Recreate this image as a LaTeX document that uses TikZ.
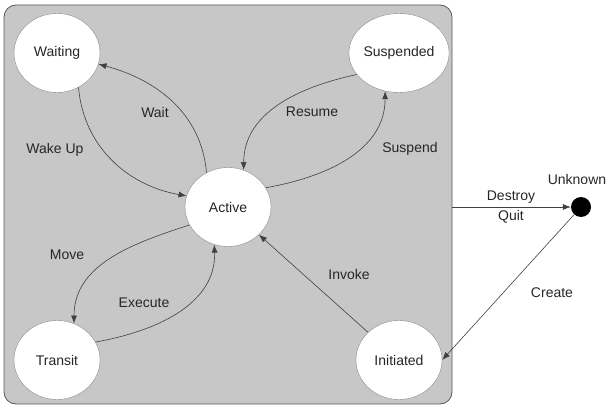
\documentclass[tikz,border=0pt]{standalone}
\usepackage{fontspec}
\setmainfont{Liberation Sans}
\usetikzlibrary{positioning}
\usetikzlibrary{arrows.meta}
\usetikzlibrary{shapes.geometric}

\begin{document}
\begin{tikzpicture}[x=1pt, y=-1pt, font=\fontsize{14}{17}\selectfont,
  state/.style={ellipse, draw=black!45, fill=white, minimum width=86pt, minimum height=79pt, inner sep=0pt, text=black!85},
  trans/.style={-{Latex[length=8pt,width=6pt]}, draw=black!75, line width=0.6pt},
  lbl/.style={text=black!85}]
  \useasboundingbox (0,0) rectangle (608,409);
  % box %
  \node[draw=black!65, line width=0.8pt, fill=black!22, rounded corners=12pt, minimum width=448pt, minimum height=399pt] (sys) at (228,204.5) {};
  % nodes %
  \node[state] (act) at (228,207) {Active};
  \node[state, on grid, above left=154pt and 171pt of act] (wait) {Waiting};
  \node[state, on grid, above right=154pt and 171pt of act] (susp) {Suspended};
  \node[state, on grid, below left=153pt and 171pt of act] (tran) {Transit};
  \node[state, on grid, below right=153pt and 171pt of act] (init) {Initiated};
  \node[circle, fill=black, minimum size=20pt, inner sep=0pt, on grid, right=353pt of act] (unk) {};
  % labels %
  \node[lbl] (lwait) at (155,112) {Wait};
  \node[lbl] (lwake) at (55,150) {Wake Up};
  \node[lbl] (lres) at (312,112) {Resume};
  \node[lbl] (lsusp) at (410,149) {Suspend};
  \node[lbl] (lmove) at (67,255) {Move};
  \node[lbl] (lexec) at (144,303) {Execute};
  \node[lbl] (linv) at (349,274) {Invoke};
  \node[lbl] (lunk) at (577,179) {Unknown};
  \node[lbl] (ldest) at (511,197) {Destroy};
  \node[lbl] (lquit) at (511,217) {Quit};
  \node[lbl] (lcre) at (552,293) {Create};
  % edges %
  \draw[trans] (act.122) to[out=95, in=-15] (wait.-15);
  \draw[trans] (wait.-58) to[out=-85, in=170] (act.165);
  \draw[trans] (susp.207) to[out=192, in=90] (act.67);
  \draw[trans] (act.27) to[out=10, in=-90] (susp.-110);
  \draw[trans] (act.205) to[out=198, in=90] (tran.65);
  \draw[trans] (tran.25) to[out=10, in=-88] (act.-110);
  \draw[trans] (init) -- (act);
  \draw[trans] (sys.east |- unk) -- (unk);
  \draw[trans] (unk) -- (init.east);
\end{tikzpicture}
\end{document}
